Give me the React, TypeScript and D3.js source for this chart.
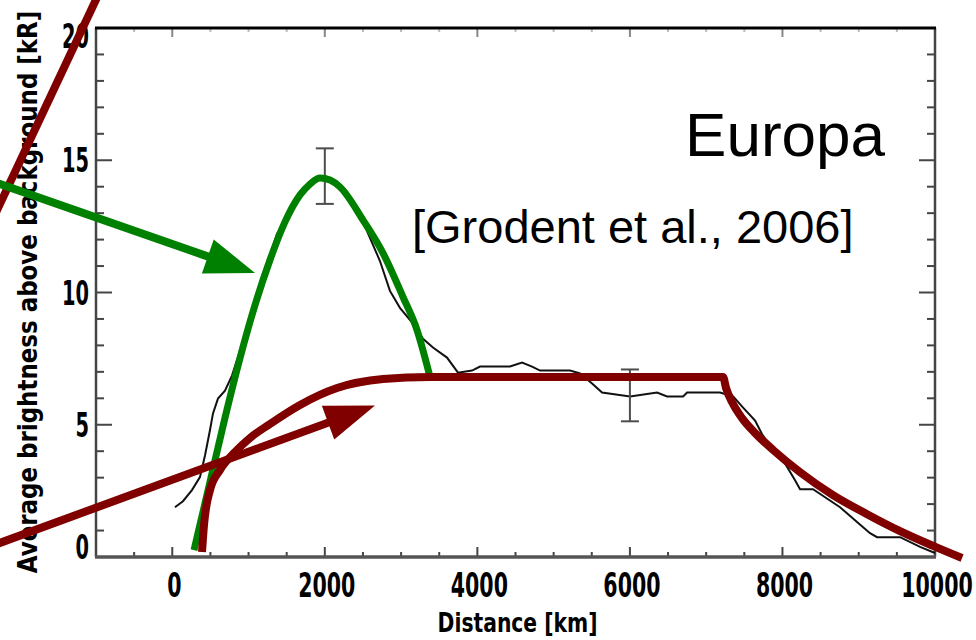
import React, { useEffect, useRef } from 'react';
import * as d3 from 'd3';

const WIDTH = 976;
const HEIGHT = 640;

// Measured brightness profile (distance in km, brightness in kR)
const profileKm = [
  35, 140, 258, 363, 429, 494, 534, 599, 691, 783, 888, 1019, 1123, 1242, 1373, 1504, 1635, 1766,
  1936, 2067, 2159, 2329, 2421, 2552, 2723, 2854, 2985, 3156, 3287, 3418, 3602, 3746, 3930, 4035,
  4428, 4586, 4717, 4822, 5216, 5347, 5504, 5635, 6002, 6356, 6487, 6697, 6750, 7182, 7353, 7484,
  7641, 7733, 7864, 8008, 8165, 8231, 8401, 8755, 8978, 9148, 9240, 9542, 9804, 10000,
];
const profileKR = [
  1.88, 2.11, 2.53, 3.02, 3.84, 4.79, 5.43, 5.99, 6.29, 6.86, 7.8, 9.05, 10.06, 11.08, 12.21, 12.82,
  13.57, 14.02, 14.32, 14.29, 14.1, 13.46, 13.08, 12.33, 11.19, 10.06, 9.42, 8.82, 8.25, 7.92, 7.54,
  6.97, 7.05, 7.2, 7.2, 7.35, 7.2, 7.05, 7.05, 6.94, 6.56, 6.22, 6.07, 6.22, 6.07, 6.07, 6.22, 6.22,
  6.07, 5.65, 5.16, 4.64, 4.11, 3.66, 2.9, 2.56, 2.56, 1.88, 1.32, 0.9, 0.75, 0.75, 0.38, 0.15,
];

// Green model (peak component)
const greenKm = [285, 495, 691, 888, 1085, 1281, 1478, 1675, 1806, 1937, 2068, 2199, 2501, 2763, 3025, 3209, 3379];
const greenKR = [0.26, 2.84, 5.26, 7.52, 9.53, 11.23, 12.67, 13.69, 14.1, 14.33, 14.25, 13.99, 12.74, 11.49, 9.83, 8.58, 6.81];

// Red model (plateau component)
const redKm = [
  390, 416, 495, 626, 823, 1019, 1281, 1675, 2160, 2763, 3379, 7221, 7260, 7339, 7470, 7640, 7876,
  8230, 8663, 9109, 9542, 9975, 10355,
];
const redKR = [
  0.19, 1.21, 2.53, 3.29, 3.97, 4.5, 5.03, 5.75, 6.39, 6.73, 6.81, 6.81, 6.39, 5.86, 5.25, 4.69,
  4.05, 3.21, 2.34, 1.62, 0.98, 0.42, -0.04,
];

// Error bars
const errKm = [2000, 6000];
const errLow = [13.35, 5.13];
const errHigh = [15.45, 7.09];

const xTicks = [0, 2000, 4000, 6000, 8000, 10000];
const yTicks = [0, 5, 10, 15, 20];

// Annotation arrows, [tail, tip] in data units
const greenArrow: [number, number][] = [[-2300, 14.14], [1085, 10.74]];
const redArrow: [number, number][] = [[-2300, 0.49], [2658, 5.73]];
const redSlash: [number, number][] = [[-2400, 12.48], [-950, 21.38]];

const GREEN = '#008000';
const RED = '#800000';
const AXIS = '#454545';

export default function App() {
  const svgRef = useRef<SVGSVGElement>(null);

  useEffect(() => {
    if (!svgRef.current) return;
    const svg = d3.select(svgRef.current);
    svg.selectAll('*').remove();

    const margin = { top: 28, right: 41, bottom: 83, left: 96 };
    const x0 = margin.left;
    const x1 = WIDTH - margin.right;
    const y0 = HEIGHT - margin.bottom;
    const y1 = margin.top;

    const xScale = d3.scaleLinear().domain([-1000, 10000]).range([x0, x1]);
    const yScale = d3.scaleLinear().domain([0, 20]).range([y0, y1]);

    const xMinor = d3.range(-500, 10000, 500).filter((v) => !xTicks.includes(v));
    const yMinor = d3.range(1, 20, 1).filter((v) => !yTicks.includes(v));

    // Ticks
    const ticks = svg.append('g').attr('stroke', AXIS).attr('stroke-width', 2);
    xTicks.forEach((v) => {
      const x = xScale(v);
      ticks.append('line').attr('x1', x).attr('x2', x).attr('y1', y0).attr('y2', y0 - 10);
      ticks.append('line').attr('x1', x).attr('x2', x).attr('y1', y1).attr('y2', y1 + 9).attr('stroke', '#888');
    });
    xMinor.forEach((v) => {
      const x = xScale(v);
      ticks.append('line').attr('x1', x).attr('x2', x).attr('y1', y0).attr('y2', y0 - 5);
      ticks.append('line').attr('x1', x).attr('x2', x).attr('y1', y1).attr('y2', y1 + 4).attr('stroke', '#bbb');
    });
    yTicks.forEach((v) => {
      const y = yScale(v);
      ticks.append('line').attr('x1', x0).attr('x2', x0 + 16).attr('y1', y).attr('y2', y);
      ticks.append('line').attr('x1', x1).attr('x2', x1 - 16).attr('y1', y).attr('y2', y);
    });
    yMinor.forEach((v) => {
      const y = yScale(v);
      ticks.append('line').attr('x1', x0).attr('x2', x0 + 8).attr('y1', y).attr('y2', y);
      ticks.append('line').attr('x1', x1).attr('x2', x1 - 8).attr('y1', y).attr('y2', y);
    });

    // Frame
    svg.append('line').attr('x1', x0).attr('x2', x0).attr('y1', y1).attr('y2', y0)
      .attr('stroke', AXIS).attr('stroke-width', 2.5);
    svg.append('line').attr('x1', x1).attr('x2', x1).attr('y1', y1).attr('y2', y0)
      .attr('stroke', AXIS).attr('stroke-width', 2.5);
    svg.append('line').attr('x1', x0 - 1).attr('x2', x1 + 1).attr('y1', y0).attr('y2', y0)
      .attr('stroke', '#555').attr('stroke-width', 3.5);
    svg.append('line').attr('x1', x0 - 1).attr('x2', x1 + 1).attr('y1', y1).attr('y2', y1)
      .attr('stroke', '#000').attr('stroke-width', 3);

    // Condensed bold text: measure, then squeeze horizontally to a target width
    const labelFont = 'DejaVu Sans, sans-serif';
    const squeezed = (
      txt: string,
      x: number,
      y: number,
      size: number,
      target: number,
      anchor: string,
      rotate = 0,
    ) => {
      const t = svg.append('text')
        .attr('text-anchor', anchor)
        .attr('font-family', labelFont)
        .attr('font-weight', 'bold')
        .attr('font-size', size)
        .attr('fill', '#000')
        .text(txt);
      const natural = (t.node() as SVGTextElement).getComputedTextLength() || target;
      t.attr('transform', `translate(${x},${y}) rotate(${rotate}) scale(${target / natural},1)`);
    };

    xTicks.forEach((v) => {
      squeezed(String(v), xScale(v) + 2, y0 + 40, 33, String(v).length * 14.3, 'middle');
    });
    yTicks.forEach((v) => {
      const yc = Math.min(Math.max(yScale(v), y1 + 8), y0 - 10);
      squeezed(String(v), x0 - 7, yc + 12, 33, String(v).length * 13.5, 'end');
    });

    // Axis titles
    squeezed('Distance [km]', (x0 + x1) / 2 + 2, 632, 27, 160, 'middle');
    squeezed('Average brightness above background [kR]', 37, 292, 26, 563, 'middle', -90);

    // Measured profile
    const profile = profileKm.map((d, i) => [d, profileKR[i]] as [number, number]);
    const line = d3.line<[number, number]>()
      .x((d) => xScale(d[0]))
      .y((d) => yScale(d[1]));
    svg.append('path')
      .datum(profile)
      .attr('d', line)
      .attr('fill', 'none')
      .attr('stroke', '#111')
      .attr('stroke-width', 2);

    // Error bars
    errKm.forEach((v, i) => {
      const x = xScale(v);
      const g = svg.append('g').attr('stroke', '#4d4d4d').attr('stroke-width', 2);
      g.append('line').attr('x1', x).attr('x2', x).attr('y1', yScale(errLow[i])).attr('y2', yScale(errHigh[i]));
      g.append('line').attr('x1', x - 9).attr('x2', x + 9).attr('y1', yScale(errLow[i])).attr('y2', yScale(errLow[i]));
      g.append('line').attr('x1', x - 9).attr('x2', x + 9).attr('y1', yScale(errHigh[i])).attr('y2', yScale(errHigh[i]));
    });

    // Model curves
    const smooth = d3.line<[number, number]>()
      .x((d) => xScale(d[0]))
      .y((d) => yScale(d[1]))
      .curve(d3.curveMonotoneX);

    svg.append('path')
      .datum(greenKm.map((d, i) => [d, greenKR[i]] as [number, number]))
      .attr('d', smooth)
      .attr('fill', 'none')
      .attr('stroke', GREEN)
      .attr('stroke-width', 7);

    svg.append('path')
      .datum(redKm.map((d, i) => [d, redKR[i]] as [number, number]))
      .attr('d', smooth)
      .attr('fill', 'none')
      .attr('stroke', RED)
      .attr('stroke-width', 8);

    // Arrows
    const drawArrow = (pts: [number, number][], color: string, head: boolean) => {
      const ax = xScale(pts[0][0]);
      const ay = yScale(pts[0][1]);
      const bx = xScale(pts[1][0]);
      const by = yScale(pts[1][1]);
      const len = Math.hypot(bx - ax, by - ay);
      const ux = (bx - ax) / len;
      const uy = (by - ay) / len;
      const headLen = head ? 50 : 0;
      const cx = bx - ux * headLen;
      const cy = by - uy * headLen;
      svg.append('line')
        .attr('x1', ax).attr('y1', ay).attr('x2', cx + ux * 2).attr('y2', cy + uy * 2)
        .attr('stroke', color).attr('stroke-width', 8);
      if (head) {
        const hw = 18;
        svg.append('polygon')
          .attr('points', `${bx},${by} ${cx - uy * hw},${cy + ux * hw} ${cx + uy * hw},${cy - ux * hw}`)
          .attr('fill', color);
      }
    };
    drawArrow(redSlash, RED, false);
    drawArrow(greenArrow, GREEN, true);
    drawArrow(redArrow, RED, true);

    // Annotations
    svg.append('text')
      .attr('x', 885)
      .attr('y', 156)
      .attr('text-anchor', 'end')
      .attr('font-family', 'Liberation Sans, Arial, sans-serif')
      .attr('font-size', 62)
      .attr('fill', '#000')
      .text('Europa');
    svg.append('text')
      .attr('x', 412)
      .attr('y', 243)
      .attr('font-family', 'Liberation Sans, Arial, sans-serif')
      .attr('font-size', 47)
      .attr('fill', '#000')
      .text('[Grodent et al., 2006]');
  }, []);

  return (
    <div style={{ position: 'fixed', left: 0, top: 0, width: WIDTH, height: HEIGHT, background: '#fff' }}>
      <svg ref={svgRef} width={WIDTH} height={HEIGHT} style={{ display: 'block' }} />
    </div>
  );
}
